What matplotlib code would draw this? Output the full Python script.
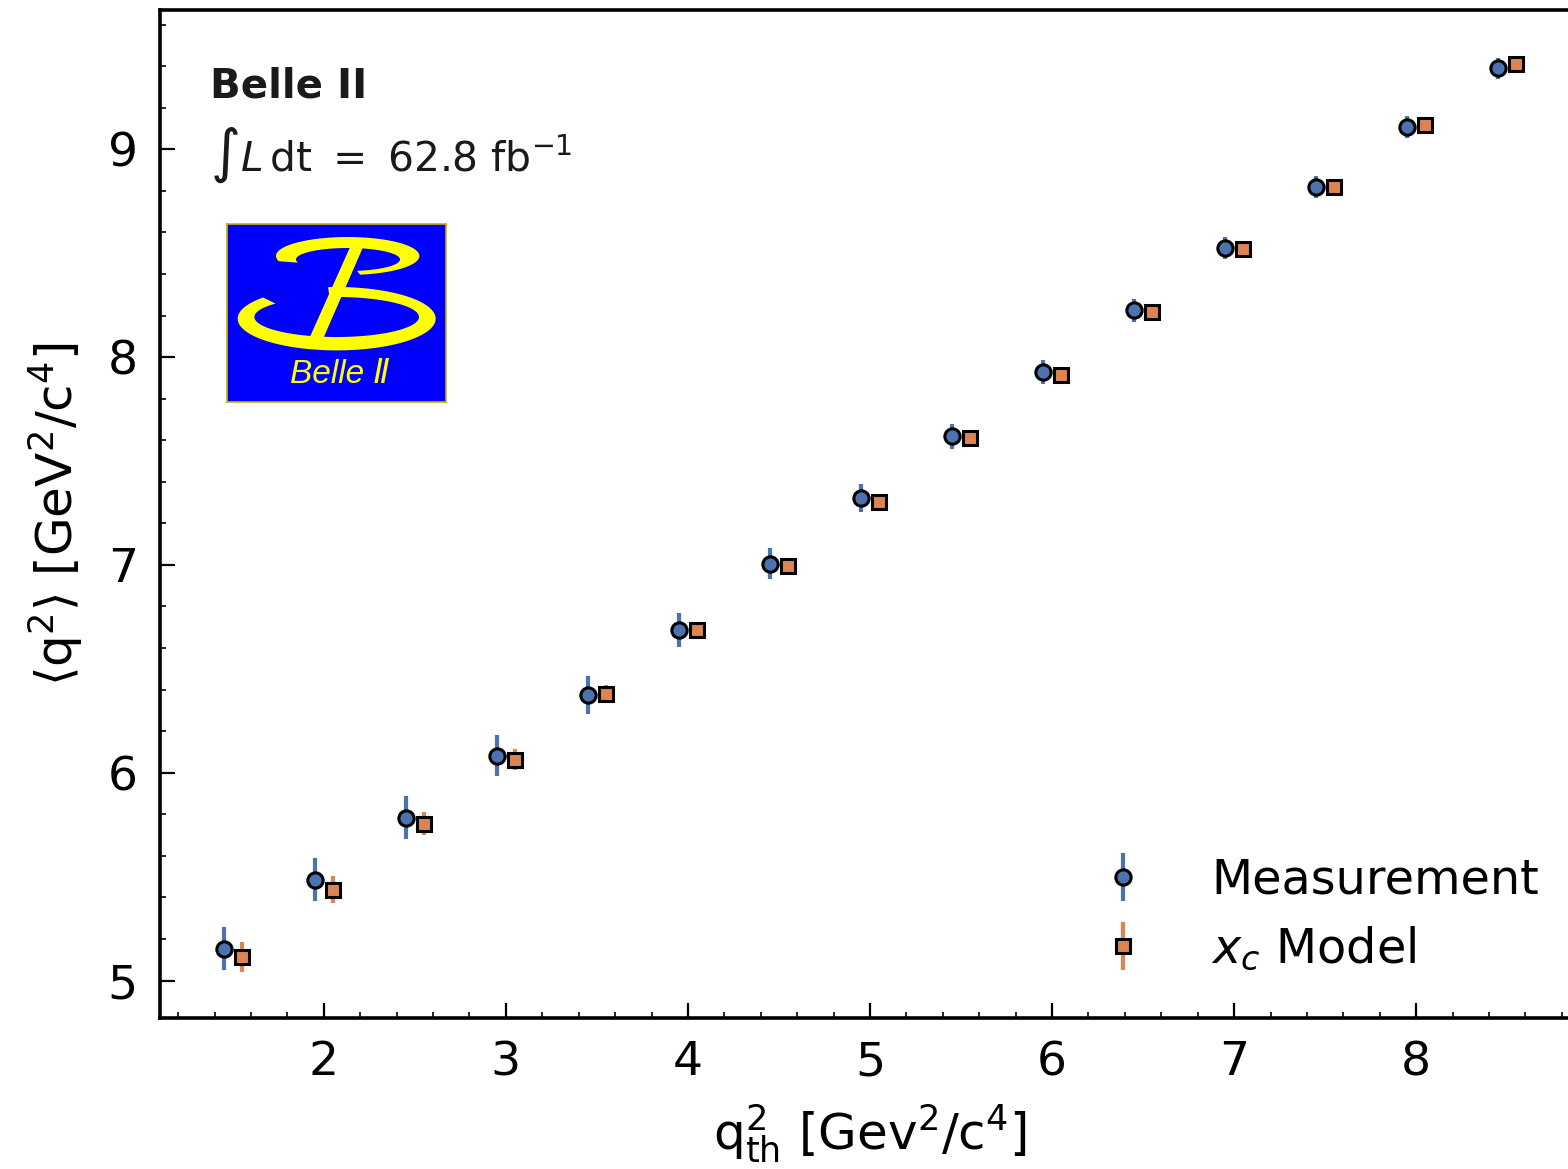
import numpy as np
import matplotlib
matplotlib.use("Agg")
import matplotlib.pyplot as plt
from matplotlib.patches import Polygon
from matplotlib.ticker import MultipleLocator

# --- data ---
q2_th = [1.5, 2.0, 2.5, 3.0, 3.5, 4.0, 4.5, 5.0, 5.5, 6.0, 6.5, 7.0, 7.5, 8.0, 8.5]
meas_q2 = [5.154, 5.486, 5.784, 6.082, 6.375, 6.688, 7.005, 7.322, 7.620,
           7.928, 8.226, 8.524, 8.817, 9.106, 9.389]
meas_err = [0.105, 0.105, 0.103, 0.100, 0.091, 0.082, 0.075, 0.067, 0.060,
            0.057, 0.055, 0.053, 0.052, 0.052, 0.052]
model_q2 = [5.115, 5.438, 5.755, 6.063, 6.380, 6.688, 6.995, 7.303, 7.611,
            7.913, 8.216, 8.519, 8.817, 9.115, 9.409]
model_err = [0.072, 0.063, 0.055, 0.050, 0.043, 0.035, 0.030, 0.028, 0.026,
             0.025, 0.024, 0.023, 0.022, 0.022, 0.021]
x_shift = 0.05

plt.rcParams['mathtext.fontset'] = 'dejavusans'

W, H, DPI = 1568, 1169, 200
fig = plt.figure(figsize=(W / DPI, H / DPI), dpi=DPI)
ax = fig.add_axes([160 / W, 1 - 1018 / H, 1420 / W, 1008 / H])

x = np.array(q2_th)
ax.errorbar(x - x_shift, meas_q2, yerr=meas_err, fmt='o', color='#4C72B0',
            ecolor='#4C72B0', elinewidth=1.5, capsize=0, markersize=5.5,
            markeredgecolor='black', markeredgewidth=1.1, label='Measurement')
ax.errorbar(x + x_shift, model_q2, yerr=model_err, fmt='s', color='#DD8452',
            ecolor='#DD8452', elinewidth=1.5, capsize=0, markersize=5.0,
            markeredgecolor='black', markeredgewidth=1.1, label=r'$x_c$ Model')

ax.set_xlim(1.1, 8.9)
ax.set_ylim(4.82, 9.67)
ax.xaxis.set_major_locator(MultipleLocator(1))
ax.xaxis.set_minor_locator(MultipleLocator(0.2))
ax.yaxis.set_major_locator(MultipleLocator(1))
ax.yaxis.set_minor_locator(MultipleLocator(0.2))
ax.tick_params(which='both', direction='in', top=False, right=False,
               labelsize=17, pad=8)
ax.tick_params(which='major', length=5.5, width=0.8)
ax.tick_params(which='minor', length=2.2, width=0.6)
for s in ax.spines.values():
    s.set_linewidth(1.3)

ax.set_xlabel(r'q$^2_{\mathrm{th}}$ [Gev$^2$/c$^4$]', fontsize=18, labelpad=6)
ax.set_ylabel(r'$\langle\mathrm{q}^2\rangle$ [GeV$^2$/c$^4$]', fontsize=18, labelpad=8)

ax.text(210 / W, 1 - 97 / H, 'Belle II', transform=fig.transFigure,
        fontsize=14.5, fontweight='bold', color='#1a1a1a')
ax.text(210 / W, 1 - 155 / H, r'$\int L\,\mathrm{dt}\ =\ 62.8\ \mathrm{fb}^{-1}$',
        transform=fig.transFigure, fontsize=14.7, color='#1a1a1a', va='center')

ax.legend(loc='lower right', frameon=False, fontsize=17.2, handletextpad=0.85,
          labelspacing=0.45, bbox_to_anchor=(1.0015, 0.002))

# --- Belle II logo ---
lax = fig.add_axes([227 / W, 1 - 402 / H, 219 / W, 178 / H])
lax.set_xlim(0, 219)
lax.set_ylim(0, 178)
lax.set_facecolor('#0000ff')
lax.set_xticks([])
lax.set_yticks([])
for s in lax.spines.values():
    s.set_color('#c8b400')
    s.set_linewidth(0.6)
yel = '#ffff00'


def ring(outer, inner, t1, t2):
    # band between two ellipses (cx, cy, a, b) over parameter range t1..t2 (deg)
    t = np.radians(np.linspace(t1, t2, 120))
    ox = outer[0] + outer[2] * np.cos(t)
    oy = outer[1] + outer[3] * np.sin(t)
    ix = inner[0] + inner[2] * np.cos(t[::-1])
    iy = inner[1] + inner[3] * np.sin(t[::-1])
    return np.column_stack([np.r_[ox, ix], np.r_[oy, iy]])


lax.add_patch(Polygon(ring((120.7, 146, 71.7, 19), (121, 142.5, 52, 11.5), -80, 196),
                      closed=True, color=yel, lw=0))
lax.add_patch(Polygon(ring((109.7, 83.3, 99, 31.7), (109.7, 85, 82.3, 20), 138, 455),
                      closed=True, color=yel, lw=0))
lax.add_patch(Polygon([(124, 157), (137, 157), (96, 63), (82, 63)], closed=True,
                      color=yel, lw=0))
lax.text(112.5, 27, 'Belle Ⅱ', color=yel, fontsize=12, style='italic',
         ha='center', va='center', family=['Liberation Sans', 'DejaVu Sans'])

fig.savefig('out.png', dpi=DPI)
